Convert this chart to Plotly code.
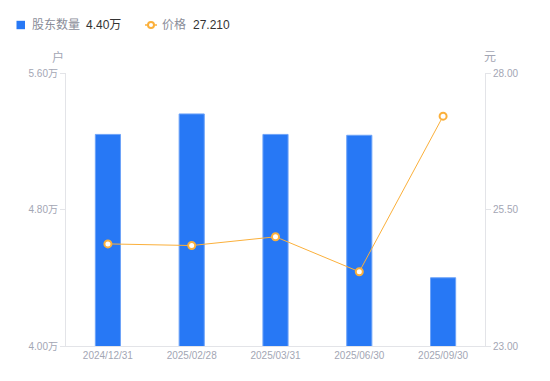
import plotly.graph_objects as go

dates = ["2024/12/31", "2025/02/28", "2025/03/31", "2025/06/30", "2025/09/30"]
holders_wan = [5.24, 5.36, 5.24, 5.235, 4.40]
price = [24.87, 24.84, 25.00, 24.36, 27.21]
left_ticks = [4.00, 4.80, 5.60]
right_ticks = [23.00, 25.50, 28.00]
legend_holders = "4.40万"
legend_price = "27.210"

BLUE = "#2778F5"
ORANGE = "#FBB03B"
TICK = "#A3A6B4"
GRID = "#E3E4E8"
DARK = "#333333"
FONT = "Liberation Sans, Arial, Noto Sans CJK SC, sans-serif"

# plot area in pixels
L, R, T, B = 66, 485, 73, 346
W, H = R - L, B - T


def px(x):
    return (x - L) / W


def py(y):
    return (B - y) / H


fig = go.Figure()
fig.add_trace(go.Bar(
    x=dates, y=holders_wan, name="股东数量",
    marker=dict(color=BLUE, line=dict(color="#6EA3F8", width=1)),
    width=0.3, yaxis="y",
))
fig.add_trace(go.Scatter(
    x=dates, y=price, name="价格",
    mode="lines+markers", yaxis="y2",
    line=dict(color=ORANGE, width=1),
    marker=dict(symbol="circle", size=7, color="white", line=dict(color=ORANGE, width=2)),
))

legend_y = 25
shapes = [
    dict(type="rect", xref="paper", yref="paper",
         x0=px(16.5), x1=px(25), y0=py(20.8), y1=py(29.2),
         fillcolor=BLUE, line=dict(width=0)),
    dict(type="line", xref="paper", yref="paper",
         x0=px(145), x1=px(157), y0=py(legend_y), y1=py(legend_y),
         line=dict(color=ORANGE, width=1.5)),
    dict(type="circle", xref="paper", yref="paper",
         x0=px(148), x1=px(154), y0=py(legend_y + 3), y1=py(legend_y - 3),
         fillcolor="white", line=dict(color=ORANGE, width=2)),
]

annotations = [
    dict(text="股东数量", x=px(30), y=py(legend_y), font=dict(size=12, color="#8A8D99", family=FONT)),
    dict(text=legend_holders, x=px(84), y=py(legend_y), font=dict(size=12, color=DARK, family=FONT)),
    dict(text="价格", x=px(160), y=py(legend_y), font=dict(size=12, color="#8A8D99", family=FONT)),
    dict(text=legend_price, x=px(191), y=py(legend_y), font=dict(size=12, color=DARK, family=FONT)),
    dict(text="户", x=px(58), y=py(57), xanchor="center", font=dict(size=12, color=TICK, family=FONT)),
    dict(text="元", x=px(490), y=py(56.5), xanchor="center", font=dict(size=12, color=TICK, family=FONT)),
]
for a in annotations:
    a.setdefault("xanchor", "left")
    a.update(xref="paper", yref="paper", showarrow=False, yanchor="middle")

fig.update_layout(
    width=550, height=381,
    margin=dict(l=L, r=550 - R, t=T, b=381 - B, autoexpand=False),
    paper_bgcolor="white", plot_bgcolor="white",
    font=dict(family=FONT, size=10, color=TICK),
    showlegend=False,
    hovermode=False,
    xaxis=dict(
        type="category", showgrid=False, showline=True, linecolor=GRID, linewidth=1,
        ticks="", tickfont=dict(size=10, color=TICK), zeroline=False, automargin=False,
    ),
    yaxis=dict(
        range=[4.0, 5.6], tickvals=left_ticks, ticktext=[f"{v:.2f}万" for v in left_ticks],
        showgrid=False, showline=True, linecolor=GRID, linewidth=1,
        ticks="outside", ticklen=5, tickcolor=GRID, tickfont=dict(size=10, color=TICK),
        zeroline=False, automargin=False,
    ),
    yaxis2=dict(
        range=[23.0, 28.0], tickvals=right_ticks, ticktext=[f"{v:.2f}" for v in right_ticks],
        overlaying="y", side="right", showgrid=False, showline=True, linecolor=GRID,
        linewidth=1, ticks="outside", ticklen=5, tickcolor=GRID,
        tickfont=dict(size=10, color=TICK), zeroline=False, automargin=False,
    ),
    shapes=shapes,
    annotations=annotations,
)

fig.write_html("out.html", config={"displayModeBar": False},
               post_script="document.body.style.margin='0';")
